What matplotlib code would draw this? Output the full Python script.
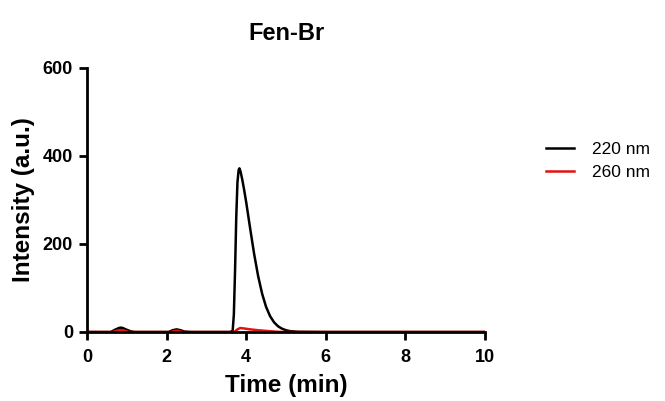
import matplotlib
matplotlib.use("Agg")
import matplotlib.pyplot as plt

plt.rcParams['font.family'] = ['Liberation Sans', 'DejaVu Sans']

# chromatogram traces (time in min, intensity in a.u.)
t_220 = [0.0, 0.6, 0.7, 0.8, 0.85, 0.9, 1.0, 1.1, 1.2, 2.05, 2.15, 2.25, 2.35, 2.45, 2.6,
         3.6, 3.66, 3.69, 3.72, 3.75, 3.78, 3.81, 3.83, 3.86, 3.9, 3.95, 4.0, 4.1, 4.2,
         4.3, 4.4, 4.5, 4.6, 4.7, 4.8, 4.9, 5.0, 5.1, 5.3, 6.0, 10.0]
i_220 = [0.0, 0.0, 5.0, 9.0, 10.0, 9.0, 5.0, 1.5, 0.0, 0.0, 4.0, 6.0, 4.0, 1.0, 0.0,
         0.0, 3.0, 40.0, 140.0, 260.0, 340.0, 368.0, 372.0, 364.0, 347.0, 322.0, 295.0, 235.0, 177.0,
         127.0, 87.0, 57.0, 36.0, 22.0, 13.0, 7.5, 4.0, 2.0, 0.5, 0.0, 0.0]

t_260 = [0.0, 0.65, 0.8, 0.9, 1.05, 2.1, 2.25, 2.4, 3.7, 3.78, 3.85, 3.95, 4.1, 4.3,
         4.5, 4.7, 4.9, 10.0]
i_260 = [0.0, 0.0, 4.0, 4.0, 0.0, 0.0, 3.0, 0.0, 0.0, 6.0, 9.0, 8.0, 6.0, 4.0,
         2.5, 1.0, 0.0, 0.0]

x_ticks = [0, 2, 4, 6, 8, 10]
y_ticks = [0, 200, 400, 600]

fig = plt.figure(figsize=(6.65, 4.01), dpi=100)
ax = fig.add_axes([87 / 665, 1 - 332 / 401, 398 / 665, 264 / 401])

ax.plot(t_220, i_220, color='black', lw=1.8, label='220 nm')
ax.plot(t_260, i_260, color='#e3120b', lw=1.8, label='260 nm')

ax.set_xlim(0, 10)
ax.set_ylim(0, 600)
ax.set_xticks(x_ticks)
ax.set_yticks(y_ticks)
for side in ['top', 'right']:
    ax.spines[side].set_visible(False)
for side in ['left', 'bottom']:
    ax.spines[side].set_linewidth(2.0)
ax.tick_params(direction='out', width=2.0, length=6, labelsize=13, pad=4)
ax.tick_params(axis='x', pad=6)
for lbl in ax.get_xticklabels() + ax.get_yticklabels():
    lbl.set_fontweight('bold')

ax.set_xlabel('Time (min)', fontsize=17.5, fontweight='bold', labelpad=6)
ax.set_ylabel('Intensity (a.u.)', fontsize=17.5, fontweight='bold', labelpad=6)
ax.set_title('Fen-Br', fontsize=17, fontweight='bold', pad=20)

ax.legend(loc='upper left', bbox_to_anchor=(1.115, 0.78), frameon=False,
          fontsize=12.5, handlelength=1.6, handletextpad=1.0, labelspacing=0.45)

fig.savefig('out.png', dpi=100)
